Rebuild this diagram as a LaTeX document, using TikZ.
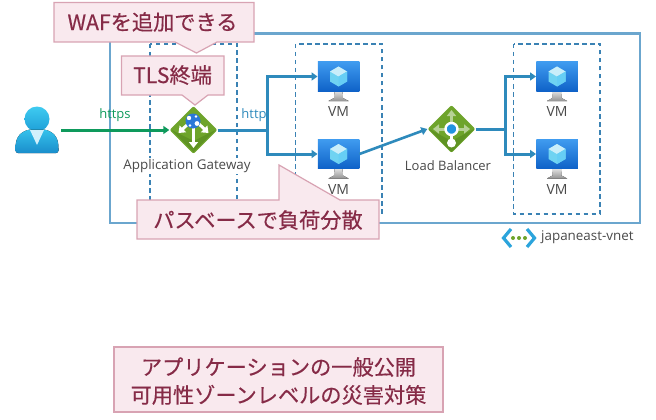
\documentclass[tikz,border=0pt]{standalone}
\usepackage{fontspec}
\setmainfont{Open Sans}
\newfontfamily\jpfont[FakeBold=0.4]{Noto Sans CJK JP}
\usetikzlibrary{arrows.meta,shapes.geometric}
\definecolor{cfill}{HTML}{F9E9EE}
\definecolor{cline}{HTML}{D8A3B3}
\definecolor{ctext}{HTML}{862B47}
\definecolor{vnetc}{HTML}{6BA6CE}
\definecolor{zone}{HTML}{3A82B4}
\definecolor{flow}{HTML}{2E8ABC}
\definecolor{gflow}{HTML}{0E9A5C}
\definecolor{lbl}{HTML}{4A4A4A}
\definecolor{dia}{HTML}{6EA42B}
\definecolor{dia2}{HTML}{5F9323}
\definecolor{vmtop}{HTML}{3F9BEF}
\definecolor{vmbot}{HTML}{0F62C8}
\definecolor{cube}{HTML}{6FD3F2}
\definecolor{heada}{HTML}{3FCBF0}
\definecolor{headb}{HTML}{1E9FD8}
\definecolor{bodya}{HTML}{35C2EC}
\definecolor{bodyb}{HTML}{1A8DCB}
\definecolor{chev}{HTML}{2BA4DC}
\definecolor{globec}{HTML}{2B78D8}
\tikzset{
  x=1pt,y=-1pt,
  callout/.style={draw=cline,fill=cfill,line width=1.2pt,line join=miter},
  calltext/.style={font=\jpfont\fontsize{21.2}{28}\selectfont,text=ctext,align=center,inner sep=0pt},
  zonebox/.style={draw=zone,line width=1.5pt,dash pattern=on 4.5pt off 3.5pt},
  flowline/.style={draw=flow,line width=3pt},
  flowarrow/.style={flowline,-{Triangle[length=6pt,width=8pt]}},
  iconlabel/.style={font=\fontsize{13.4}{15}\selectfont,text=lbl,inner sep=1pt},
  vmscreen/.style={rectangle,minimum width=41.5pt,minimum height=29pt,inner sep=0pt,top color=vmtop,bottom color=vmbot},
  diamondicon/.style={diamond,minimum width=48pt,minimum height=48pt,inner sep=0pt,fill=dia,rounded corners=2pt},
  whitearrow/.style={draw=white,line width=3pt,-{Triangle[length=6pt,width=9pt]}}
}
\newcommand\vmicon[4]{% name, cx, cy(monitor center), label
  \fill[top color=white!80!gray,bottom color=gray!85] (#2-4,#3+14) -- (#2+4,#3+14) -- (#2+4.5,#3+21.5) -- (#2+10,#3+24.5) -- (#2-10,#3+24.5) -- (#2-4.5,#3+21.5) -- cycle;
  \node[vmscreen] (#1) at (#2,#3) {};
  \fill[cube] (#2,#3-10) -- (#2+8.5,#3-5) -- (#2+8.5,#3+5) -- (#2,#3+10) -- (#2-8.5,#3+5) -- (#2-8.5,#3-5) -- cycle;
  \fill[color=cyan!12!white,opacity=.8] (#2,#3-10) -- (#2+8.5,#3-5) -- (#2,#3) -- (#2-8.5,#3-5) -- cycle;
  \fill[color=cyan!60!white] (#2,#3) -- (#2+8.5,#3-5) -- (#2+8.5,#3+5) -- (#2,#3+10) -- cycle;
  \node[iconlabel,font=\fontsize{14}{15}\selectfont] (#1label) at (#2,#3+35.5) {#4};
}
\begin{document}
\begin{tikzpicture}
\useasboundingbox (0,0) rectangle (656,420);
\fill[white] (0,0) rectangle (656,420);
% VNet
\draw[draw=vnetc,line width=2.1pt] (110,33.5) rectangle (640,223);
% zones
\draw[zonebox] (150,44) rectangle (237,214);
\draw[zonebox] (295.5,44) rectangle (382,213.5);
\draw[zonebox] (513.5,44) rectangle (600,214);
% user icon
\node[circle,minimum size=25pt,inner sep=0pt,top color=heada,bottom color=headb] (userhead) at (37,119) {};
\fill[top color=bodya,bottom color=bodyb,rounded corners=2.5pt] (15.5,153) -- (15.5,146) .. controls (17,135) and (22,132) .. (29,129.5) -- (45,129.5) .. controls (52,132) and (57,135) .. (58.5,146) -- (58.5,153) -- cycle;
\fill[cyan!18!white] (30,130) -- (44,130) -- (37,145) -- cycle;
\coordinate (useredge) at (61,130);
% gateway
\node[diamondicon] (gw) at (193.5,130) {};
\fill[dia2] (171.5,130) -- (193.5,152) -- (215.5,130) -- (193.5,141) -- cycle;
\draw[whitearrow] (193.5,128) -- (193.5,148);
\draw[whitearrow] (188,124) -- (178.5,133);
\draw[whitearrow] (199,124) -- (208.5,133);
\node[circle,minimum size=15pt,inner sep=0pt,fill=globec] (globe) at (193,121) {};
\fill[white] (189,118) circle (2.2pt) (197,123.5) circle (2.4pt) (196,116.5) circle (1.4pt) (190,125.5) circle (1.3pt);
% LB
\node[diamondicon] (lb) at (451.5,129) {};
\fill[dia2] (429,129) -- (451.5,152) -- (474,129) -- (451.5,141) -- cycle;
\draw[draw=dia!50!white,line width=3pt,-{Triangle[length=6pt,width=9pt]}] (451.5,124) -- (451.5,110);
\draw[draw=dia!50!white,line width=3pt,-{Triangle[length=6pt,width=9pt]}] (446,129) -- (433,129);
\draw[draw=dia!50!white,line width=3pt,-{Triangle[length=6pt,width=9pt]}] (457,129) -- (470,129);
\draw[white,line width=2.4pt] (451.5,133) -- (451.5,140);
\node[circle,draw=white,line width=2.4pt,fill=globec!80!cyan,minimum size=12pt,inner sep=0pt] (lbdot) at (451.5,129) {};
\fill[white] (451.5,143) circle (4.5pt);
% VMs
\vmicon{vma}{338.5}{76.5}{VM}
\vmicon{vmb}{338.5}{154}{VM}
\vmicon{vmc}{557}{76.5}{VM}
\vmicon{vmd}{557}{154}{VM}
% labels
\node[iconlabel,fill=white] (gwlabel) at (187,166) {Application Gateway};
\node[iconlabel,fill=white,font=\fontsize{13}{15}\selectfont] (lblabel) at (448,166) {Load Balancer};
\node[font=\fontsize{13}{15}\selectfont,text=gflow,inner sep=0pt] (httpslabel) at (115,115) {https};
\node[font=\fontsize{13}{15}\selectfont,text=flow,inner sep=0pt] (httplabel) at (254,115) {http};
% connectors
\draw[draw=gflow,line width=3pt,-{Triangle[length=6pt,width=8pt]}] (useredge) -- (gw.west);
\coordinate (ja) at (267,130);
\coordinate (jb) at (505,129);
\draw[flowline] (gw.east) -- (ja);
\draw[flowarrow] (ja) |- (vma.west);
\draw[flowarrow] (ja) |- (vmb.west);
\draw[flowarrow,line width=2.6pt] (vmb.east) -- (lb.west);
\draw[flowline] (lb.east) -- (jb);
\draw[flowarrow] (jb) |- (vmc.west);
\draw[flowarrow] (jb) |- (vmd.west);
% vnet label
\node[iconlabel,anchor=west] (vnetlabel) at (540,237.5) {japaneast-vnet};
\node[inner sep=0pt,minimum size=1pt] (vneticon) at (519,238) {};
\draw[draw=chev,line width=3.2pt] (511,229) -- (503.5,238) -- (511,247);
\draw[draw=chev,line width=3.2pt] (527,229) -- (534.5,238) -- (527,247);
\fill[dia] (513,238) circle (2pt) (519,238) circle (2pt) (525,238) circle (2pt);
% callouts
\draw[callout] (54,2.5) -- (254,2.5) -- (254,42) -- (217,42) -- (196.5,53) -- (175,42) -- (54,42) -- cycle;
\node[calltext] (waf) at (152.5,22) {WAFを追加できる};
\draw[callout] (121.5,56) -- (224,56) -- (224,95) -- (208,95) -- (195,105) -- (182,95) -- (121.5,95) -- cycle;
\node[calltext] (tls) at (172.5,75) {TLS終端};
\draw[callout] (137,200) -- (279,200) -- (279,165) -- (340,200) -- (379,200) -- (379,239) -- (137,239) -- cycle;
\node[calltext] (pb) at (258,220) {パスベースで負荷分散};
\node[draw=cline,fill=cfill,line width=1.2pt,minimum width=329pt,minimum height=65pt,inner sep=0pt] (summarybox) at (278.5,379.5) {};
\node[calltext] (summary) at (278.5,381) {アプリケーションの一般公開\\可用性ゾーンレベルの災害対策};
\end{tikzpicture}
\end{document}
